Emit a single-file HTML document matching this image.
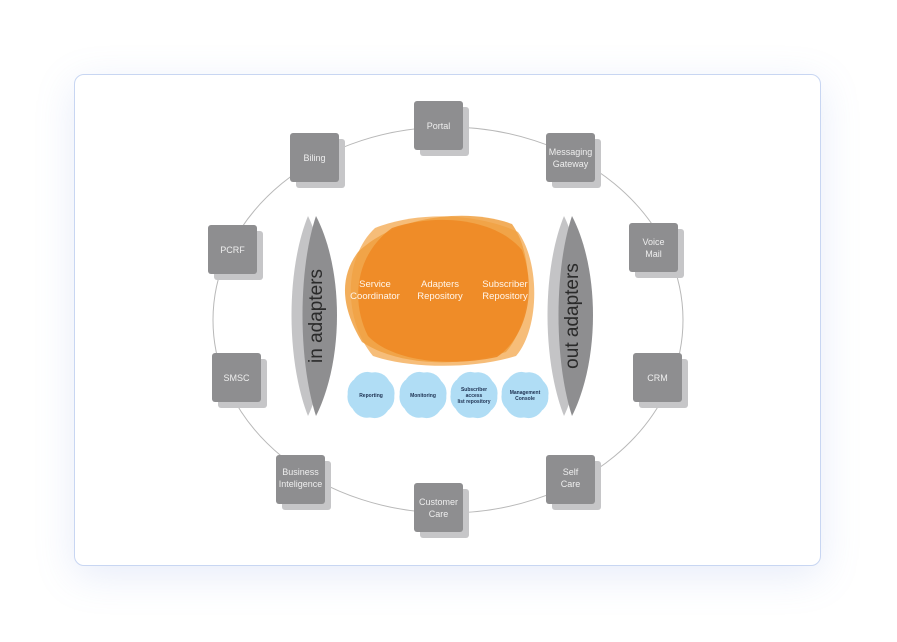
<!DOCTYPE html>
<html><head><meta charset="utf-8"><style>
html,body{margin:0;padding:0;background:#fff;width:897px;height:642px;overflow:hidden}
.card{position:absolute;left:74px;top:74px;width:745px;height:490px;border:1px solid #c8d6f2;border-radius:10px;background:#fff;box-shadow:0 10px 40px rgba(120,150,220,0.18)}
svg{position:absolute;left:0;top:0}
text{font-family:"Liberation Sans",sans-serif}
</style></head><body>
<div class="card"></div>
<svg width="897" height="642" viewBox="0 0 897 642">
<ellipse cx="448" cy="320" rx="235" ry="193" fill="none" stroke="#b8b8b8" stroke-width="1"/>
<g id="boxes" font-size="9" text-anchor="middle">
<g transform="translate(414,101)"><rect x="6" y="6" width="49" height="49" rx="3" fill="#c6c6c8"/><rect width="49" height="49" rx="3" fill="#8e8e90"/><text x="24.5" y="28" fill="#eee">Portal</text></g>
<g transform="translate(290,133)"><rect x="6" y="6" width="49" height="49" rx="3" fill="#c6c6c8"/><rect width="49" height="49" rx="3" fill="#8e8e90"/><text x="24.5" y="28" fill="#eee">Biling</text></g>
<g transform="translate(546,133)"><rect x="6" y="6" width="49" height="49" rx="3" fill="#c6c6c8"/><rect width="49" height="49" rx="3" fill="#8e8e90"/><text x="24.5" y="22" fill="#eee">Messaging</text><text x="24.5" y="34" fill="#eee">Gateway</text></g>
<g transform="translate(208,225)"><rect x="6" y="6" width="49" height="49" rx="3" fill="#c6c6c8"/><rect width="49" height="49" rx="3" fill="#8e8e90"/><text x="24.5" y="28" fill="#eee">PCRF</text></g>
<g transform="translate(629,223)"><rect x="6" y="6" width="49" height="49" rx="3" fill="#c6c6c8"/><rect width="49" height="49" rx="3" fill="#8e8e90"/><text x="24.5" y="22" fill="#eee">Voice</text><text x="24.5" y="34" fill="#eee">Mail</text></g>
<g transform="translate(212,353)"><rect x="6" y="6" width="49" height="49" rx="3" fill="#c6c6c8"/><rect width="49" height="49" rx="3" fill="#8e8e90"/><text x="24.5" y="28" fill="#eee">SMSC</text></g>
<g transform="translate(633,353)"><rect x="6" y="6" width="49" height="49" rx="3" fill="#c6c6c8"/><rect width="49" height="49" rx="3" fill="#8e8e90"/><text x="24.5" y="28" fill="#eee">CRM</text></g>
<g transform="translate(276,455)"><rect x="6" y="6" width="49" height="49" rx="3" fill="#c6c6c8"/><rect width="49" height="49" rx="3" fill="#8e8e90"/><text x="24.5" y="20" fill="#eee">Business</text><text x="24.5" y="32" fill="#eee">Inteligence</text></g>
<g transform="translate(546,455)"><rect x="6" y="6" width="49" height="49" rx="3" fill="#c6c6c8"/><rect width="49" height="49" rx="3" fill="#8e8e90"/><text x="24.5" y="20" fill="#eee">Self</text><text x="24.5" y="32" fill="#eee">Care</text></g>
<g transform="translate(414,483)"><rect x="6" y="6" width="49" height="49" rx="3" fill="#c6c6c8"/><rect width="49" height="49" rx="3" fill="#8e8e90"/><text x="24.5" y="22" fill="#eee">Customer</text><text x="24.5" y="34" fill="#eee">Care</text></g>
</g>
<!-- adapters -->
<path d="M308,216 C286,270 286,360 308,416 C334,360 334,270 308,216Z" fill="#c4c4c6"/>
<path d="M316,216 C298,270 298,360 316,416 C344,360 344,270 316,216Z" fill="#8e8e90"/>
<text transform="translate(322,316) rotate(-90)" text-anchor="middle" font-size="19" fill="#2a2a2a">in adapters</text>
<path d="M564,216 C542,270 542,360 564,416 C590,360 590,270 564,216Z" fill="#c4c4c6"/>
<path d="M572,216 C554,270 554,360 572,416 C600,360 600,270 572,216Z" fill="#8e8e90"/>
<text transform="translate(578,316) rotate(-90)" text-anchor="middle" font-size="19" fill="#2a2a2a">out adapters</text>
<!-- orange -->
<g>
<path d="M375,228 C420,210 480,214 518,232 C540,262 540,328 516,356 C470,370 408,368 373,356 C343,320 343,258 375,228Z" fill="#f5b66a" opacity="0.9"/>
<path d="M358,252 C398,214 470,208 512,224 C536,258 532,322 506,352 C460,368 398,366 362,342 C340,306 340,276 358,252Z" fill="#f0a040" opacity="0.85"/>
<path d="M392,228 C440,212 497,220 522,250 C537,290 527,336 497,357 C450,367 393,362 368,336 C350,300 356,254 392,228Z" fill="#ee8a25" opacity="0.9"/>
</g>
<g font-size="9.5" fill="#fff6ec" text-anchor="middle">
<text x="375" y="287">Service</text><text x="375" y="299">Coordinator</text>
<text x="440" y="287">Adapters</text><text x="440" y="299">Repository</text>
<text x="505" y="287">Subscriber</text><text x="505" y="299">Repository</text>
</g>
<!-- blue blobs -->
<g fill="#8fd0f2" opacity="0.7">
<rect x="349" y="374" width="44" height="42" rx="16" transform="rotate(25 371 395)"/><rect x="349" y="374" width="44" height="42" rx="16" transform="rotate(-20 371 395)"/>
<rect x="401" y="374" width="44" height="42" rx="16" transform="rotate(25 423 395)"/><rect x="401" y="374" width="44" height="42" rx="16" transform="rotate(-20 423 395)"/>
<rect x="452" y="374" width="44" height="42" rx="16" transform="rotate(25 474 395)"/><rect x="452" y="374" width="44" height="42" rx="16" transform="rotate(-20 474 395)"/>
<rect x="503" y="374" width="44" height="42" rx="16" transform="rotate(25 525 395)"/><rect x="503" y="374" width="44" height="42" rx="16" transform="rotate(-20 525 395)"/>
</g>
<g font-size="5" fill="#1d3050" text-anchor="middle" font-weight="bold">
<text x="371" y="397">Reporting</text>
<text x="423" y="397">Monitoring</text>
<text x="474" y="391">Subscriber</text><text x="474" y="397">access</text><text x="474" y="403">list repository</text>
<text x="525" y="394">Management</text><text x="525" y="400">Console</text>
</g>
</svg>
</body></html>
